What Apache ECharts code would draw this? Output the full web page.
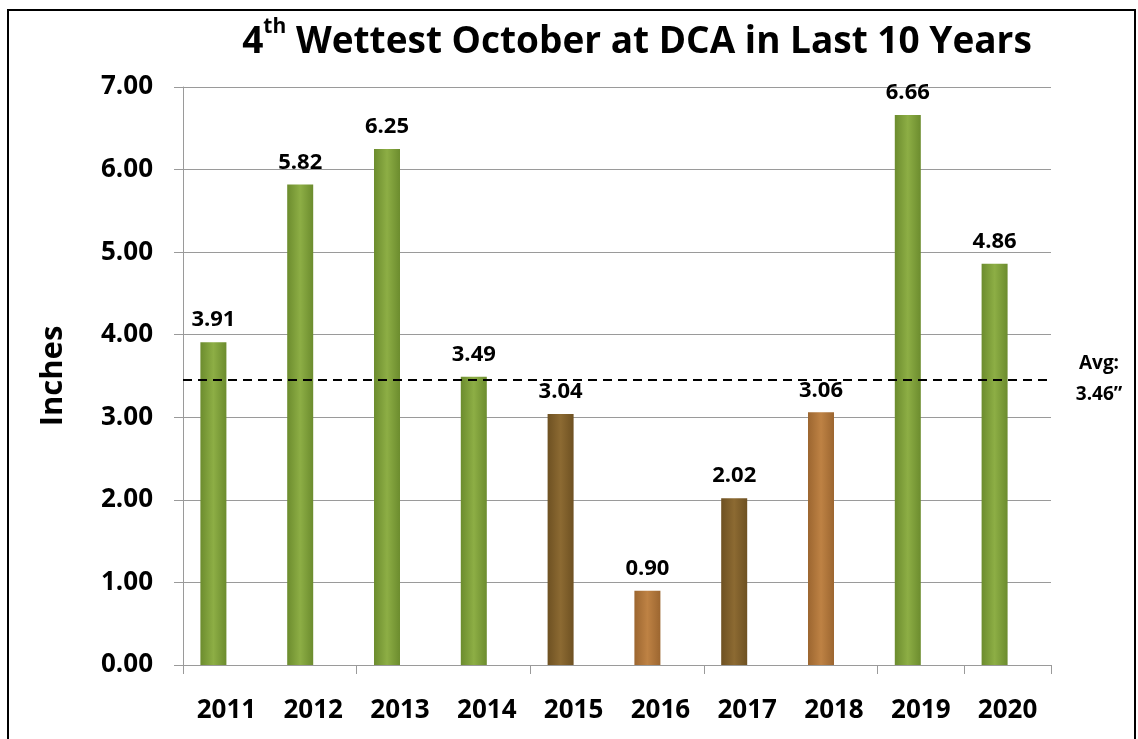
<!DOCTYPE html>
<html>
<head>
<meta charset="utf-8">
<script src="https://cdn.jsdelivr.net/npm/echarts@6/dist/echarts.min.js"></script>
<style>
html,body{margin:0;padding:0;background:#fff;}
#chart{width:1138px;height:739px;}
</style>
</head>
<body>
<div id="chart"></div>
<script>
// ---- data ----
const years = ['2011','2012','2013','2014','2015','2016','2017','2018','2019','2020'];
const rainfall = [3.91, 5.82, 6.25, 3.49, 3.04, 0.90, 2.02, 3.06, 6.66, 4.86];
const average = 3.46;
const yTicks = [0, 1, 2, 3, 4, 5, 6, 7];

// ---- styles (kept separate from data) ----
const tones = ['g','g','g','g','d','l','d','l','g','g'];
const palette = {
  g: ['#6C8C2E', '#8DAE45', '#6C8C2E'],
  d: ['#6E5122', '#8C6A32', '#6E5122'],
  l: ['#9C6630', '#BE8244', '#9C6630']
};
function grad(c){
  return new echarts.graphic.LinearGradient(0,0,1,0,[
    {offset:0,color:c[0]},{offset:0.5,color:c[1]},{offset:1,color:c[2]}
  ]);
}

const FONT = '"Open Sans", "Liberation Sans", sans-serif';
const chart = echarts.init(document.getElementById('chart'));

chart.setOption({
  animation:false,
  backgroundColor:'#fff',
  title:{
    text:'{a|4}{s|th}{a| Wettest October at DCA in Last 10 Years}',
    left:632, top:12, textAlign:'center',
    textStyle:{
      rich:{
        a:{fontFamily:FONT,fontWeight:'bold',fontSize:37,color:'#000',lineHeight:50},
        s:{fontFamily:FONT,fontWeight:'bold',fontSize:21,color:'#000',verticalAlign:'top',lineHeight:50,padding:[0,0,16,0]}
      }
    }
  },
  graphic:[{
    type:'rect', shape:{x:8,y:10,width:1127,height:740},
    style:{fill:'none',stroke:'#000',lineWidth:2}, silent:true
  }],
  grid:{left:183,right:87,top:87,bottom:74,containLabel:false},
  xAxis:{
    type:'category', data:years,
    axisLine:{lineStyle:{color:'#9a9a9a',width:1}},
    axisTick:{show:true,interval:1,length:9,lineStyle:{color:'#9a9a9a'}},
    axisLabel:{color:'#000',fontFamily:FONT,fontWeight:'bold',fontSize:26,margin:33,interval:0}
  },
  yAxis:{
    type:'value', min:yTicks[0], max:yTicks[yTicks.length-1], interval:1,
    name:'Inches', nameLocation:'middle', nameGap:114, nameRotate:90,
    nameTextStyle:{color:'#000',fontFamily:FONT,fontWeight:'bold',fontSize:31},
    axisLine:{show:true,lineStyle:{color:'#9a9a9a',width:1}},
    axisTick:{show:true,length:9,inside:false,lineStyle:{color:'#9a9a9a'}},
    splitLine:{show:true,lineStyle:{color:'#9a9a9a',width:1}},
    axisLabel:{color:'#000',fontFamily:FONT,fontWeight:'bold',fontSize:26,margin:30,
      formatter:v=>v.toFixed(2)}
  },
  series:[
    {
      type:'bar', barWidth:26, barGap:'0%',
      data: rainfall.map((v,i)=>({value:v,itemStyle:{color:grad(palette[tones[i]])}})),
      label:{show:true,position:'top',distance:11,color:'#000',fontFamily:FONT,fontWeight:'bold',fontSize:22,
        formatter:p=>p.value.toFixed(2)},
      markLine:{
        silent:true, symbol:['none','none'],
        lineStyle:{color:'#000',type:[9,6],width:2},
        data:[{yAxis:average}],
        label:{show:true,position:'end',distance:[48,0],color:'#000',fontFamily:FONT,fontWeight:'bold',fontSize:19,
          lineHeight:31,padding:[0,0,20,0],align:'center',
          formatter:()=>'Avg:\n'+average.toFixed(2)+'\u201D'}
      }
    },
    {
      type:'bar', barWidth:26, barGap:'0%',
      data: years.map(()=>null)
    }
  ]
});
</script>
</body>
</html>
